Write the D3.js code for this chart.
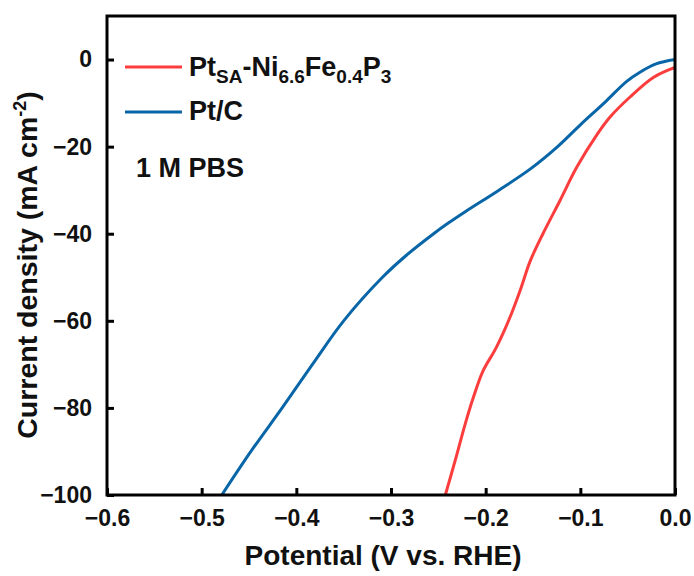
<!DOCTYPE html>
<html>
<head>
<meta charset="utf-8">
<script src="https://cdn.jsdelivr.net/npm/d3@7"></script>
<style>
  body { margin: 0; background: #fff; }
  text { font-family: Arial, "Liberation Sans", sans-serif; font-weight: bold; fill: #111; }
</style>
</head>
<body>
<div id="chart"></div>
<script>
// LSV data (potential in V vs. RHE, current density in mA cm-2)
var potentialPtSA = [-0.2426, -0.2321, -0.2215, -0.2127, -0.2030, -0.1890, -0.1745, -0.1635, -0.1530,
                     -0.1395, -0.1213, -0.1037, -0.0826, -0.0686, -0.0475, -0.0229, 0.0];
var currentPtSA   = [-100, -92.0, -83.6, -77.4, -71.6, -66.2, -59.3, -53.0, -46.3,
                     -40.0, -32.3, -24.7, -17.3, -13.2, -8.6, -4.1, -1.8];

var potentialPtC = [-0.4787, -0.448, -0.415, -0.383, -0.350, -0.309, -0.2840, -0.2550, -0.2391,
                    -0.222, -0.186, -0.152, -0.124, -0.100, -0.075, -0.051, -0.037, -0.020, 0.0];
var currentPtC   = [-100, -90, -80, -70, -60, -50, -45, -40, -37.5,
                    -35, -30, -25, -20, -15, -10, -5, -2.9, -1.0, 0.0];

var xTicks = [-0.6, -0.5, -0.4, -0.3, -0.2, -0.1, 0.0];
var yTicks = [0, -20, -40, -60, -80, -100];

var series = [
  { name: "PtSA", color: "#fb3d3d", x: potentialPtSA, y: currentPtSA },
  { name: "PtC",  color: "#0866a8", x: potentialPtC,  y: currentPtC }
];

var margin = {top: 16, right: 19, bottom: 81, left: 107},
    width = 694 - margin.left - margin.right,
    height = 576 - margin.top - margin.bottom;

var svg = d3.select("#chart")
    .append("svg")
    .attr("width", 694)
    .attr("height", 576);

var g = svg.append("g")
    .attr("transform", "translate(" + margin.left + "," + margin.top + ")");

var x = d3.scaleLinear().domain([-0.6, 0.0]).range([0, width]);
var y = d3.scaleLinear().domain([-100, 10]).range([height, 0]);

g.append("clipPath").attr("id", "clip")
  .append("rect").attr("width", width).attr("height", height);

// curves
var line = d3.line()
    .x(function (d) { return x(d[0]); })
    .y(function (d) { return y(d[1]); })
    .curve(d3.curveCatmullRom.alpha(0.5));

series.forEach(function (s) {
  var pts = s.x.map(function (v, i) { return [v, s.y[i]]; });
  g.append("path")
    .datum(pts)
    .attr("clip-path", "url(#clip)")
    .attr("fill", "none")
    .attr("stroke", s.color)
    .attr("stroke-width", 3)
    .attr("d", line);
});

// frame
g.append("rect")
  .attr("width", width).attr("height", height)
  .attr("fill", "none").attr("stroke", "#000").attr("stroke-width", 3);

function fmt(v, dec) {
  var s = Math.abs(v).toFixed(dec);
  return v < 0 ? "\u2212" + s : s;
}

// x axis
var xAxis = g.append("g")
  .attr("transform", "translate(0," + height + ")")
  .call(d3.axisBottom(x).tickValues(xTicks).tickSizeInner(-7).tickSizeOuter(0)
        .tickPadding(15).tickFormat(function (d) { return fmt(d, 1); }));
xAxis.select(".domain").remove();
xAxis.selectAll("line").attr("stroke", "#000").attr("stroke-width", 3);
xAxis.selectAll("text").attr("font-size", 23).attr("font-family", null).attr("fill", "#111");

// y axis
var yAxis = g.append("g")
  .call(d3.axisLeft(y).tickValues(yTicks).tickSizeInner(-7).tickSizeOuter(0)
        .tickPadding(15).tickFormat(function (d) { return fmt(d, 0); }));
yAxis.select(".domain").remove();
yAxis.selectAll("line").attr("stroke", "#000").attr("stroke-width", 3);
yAxis.selectAll("text").attr("font-size", 23).attr("font-family", null).attr("fill", "#111");

// axis titles
svg.append("text")
  .attr("x", 383)
  .attr("y", 565)
  .attr("text-anchor", "middle")
  .attr("font-size", 28)
  .text("Potential (V vs. RHE)");

var yt = svg.append("text")
  .attr("transform", "translate(37,265) rotate(-90)")
  .attr("text-anchor", "middle")
  .attr("font-size", 28.5);
yt.append("tspan").text("Current density (mA cm");
yt.append("tspan").attr("font-size", 18).attr("dy", -11).text("-2");
yt.append("tspan").attr("dy", 11).text(")");

// legend
var legendY = [67, 112];
g.append("line")
  .attr("x1", 125 - margin.left).attr("x2", 182 - margin.left)
  .attr("y1", legendY[0] - margin.top).attr("y2", legendY[0] - margin.top)
  .attr("stroke", series[0].color).attr("stroke-width", 3);
g.append("line")
  .attr("x1", 125 - margin.left).attr("x2", 182 - margin.left)
  .attr("y1", legendY[1] - margin.top).attr("y2", legendY[1] - margin.top)
  .attr("stroke", series[1].color).attr("stroke-width", 3);

var parts = [["Pt", false], ["SA", true], ["-Ni", false], ["6.6", true], ["Fe", false],
             ["0.4", true], ["P", false], ["3", true]];
var lt = svg.append("text")
  .attr("x", 189).attr("y", legendY[0] + 9)
  .attr("font-size", 27);
var down = false;
parts.forEach(function (p) {
  var ts = lt.append("tspan").text(p[0]);
  if (p[1] && !down) { ts.attr("dy", 7).attr("font-size", 19); down = true; }
  else if (p[1]) { ts.attr("font-size", 19); }
  else if (down) { ts.attr("dy", -7); down = false; }
});

svg.append("text")
  .attr("x", 189).attr("y", legendY[1] + 8)
  .attr("font-size", 27)
  .text("Pt/C");

svg.append("text")
  .attr("x", 136).attr("y", 177)
  .attr("font-size", 27)
  .text("1 M PBS");
</script>
</body>
</html>
